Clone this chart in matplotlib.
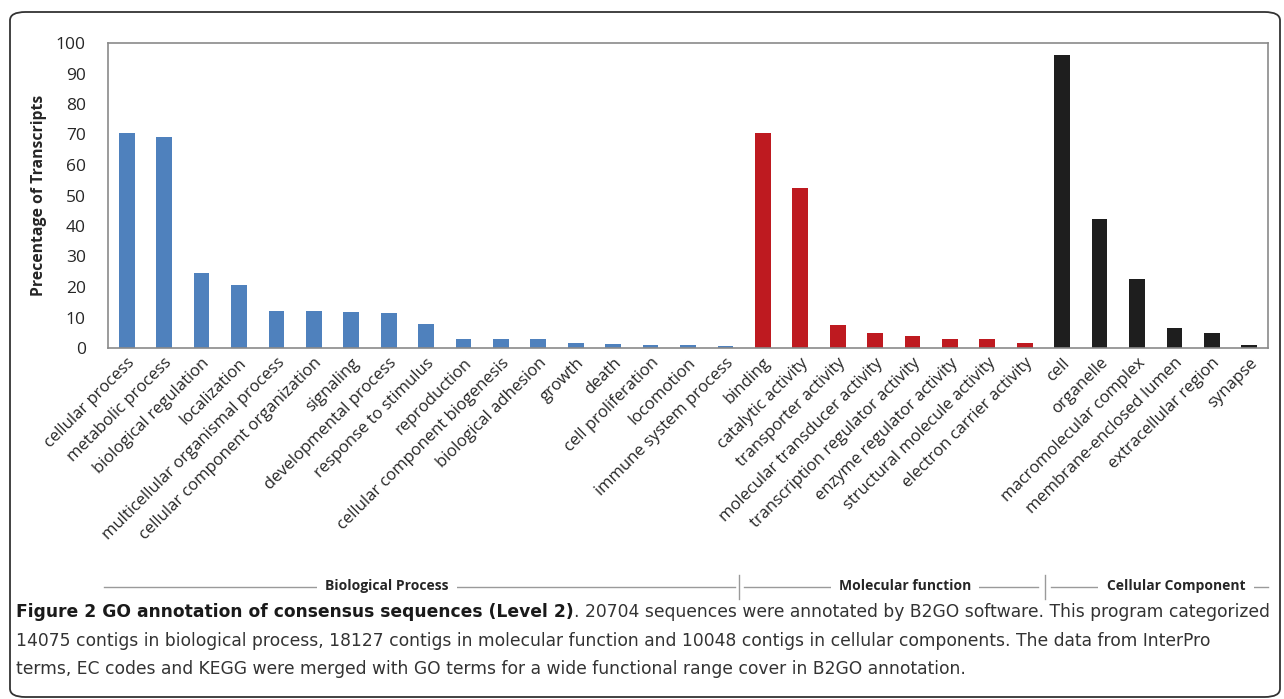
# GO annotation (Level 2) 막대 그래프 재현 스크립트

import matplotlib.pyplot as plt
from matplotlib.patches import FancyBboxPatch
from matplotlib.lines import Line2D

bp_terms = ['cellular process', 'metabolic process', 'biological regulation', 'localization',
            'multicellular organismal process', 'cellular component organization', 'signaling',
            'developmental process', 'response to stimulus', 'reproduction',
            'cellular component biogenesis', 'biological adhesion', 'growth', 'death',
            'cell proliferation', 'locomotion', 'immune system process']
bp_values = [70.4, 69.1, 24.5, 20.6, 12.2, 12.2, 11.9, 11.6, 7.9, 3.0,
             3.0, 3.0, 1.7, 1.4, 1.1, 1.1, 0.7]

mf_terms = ['binding', 'catalytic activity', 'transporter activity', 'molecular transducer activity',
            'transcription regulator activity', 'enzyme regulator activity',
            'structural molecule activity', 'electron carrier activity']
mf_values = [70.5, 52.4, 7.4, 4.8, 3.8, 3.1, 2.8, 1.5]

cc_terms = ['cell', 'organelle', 'macromolecular complex', 'membrane-enclosed lumen',
            'extracellular region', 'synapse']
cc_values = [96.0, 42.4, 22.7, 6.6, 4.8, 1.1]

group_names = ['Biological Process', 'Molecular function', 'Cellular Component']

caption_bold = 'Figure 2 GO annotation of consensus sequences (Level 2)'
caption_rest = '. 20704 sequences were annotated by B2GO software. This program categorized'
caption_lines = ['14075 contigs in biological process, 18127 contigs in molecular function and 10048 contigs in cellular components. The data from InterPro',
                 'terms, EC codes and KEGG were merged with GO terms for a wide functional range cover in B2GO annotation.']

W, H = 1284, 699
def fx(x): return x / W          # 픽셀 -> figure 좌표
def fy(y): return 1 - y / H

fig = plt.figure(figsize=(W / 100, H / 100), dpi=100)
ax = fig.add_axes([fx(108), fy(348), fx(1268) - fx(108), fy(43) - fy(348)])

terms = bp_terms + mf_terms + cc_terms
values = bp_values + mf_values + cc_values
colors = ['#4F81BD'] * len(bp_terms) + ['#BE1A20'] * len(mf_terms) + ['#1E1E1E'] * len(cc_terms)
pos = list(range(len(terms)))

ax.bar(pos, values, width=0.42, color=colors)
ax.set_xlim(-0.5, len(terms) - 0.5)
ax.set_ylim(0, 100)
ax.set_yticks(range(0, 101, 10))
ax.set_xticks(pos)
ax.set_xticklabels(terms, rotation=45, ha='right', va='top', rotation_mode='anchor',
                   fontsize=12, family='Open Sans', color='#262626')
for lab in ax.get_yticklabels():
    lab.set_fontsize(12.5)
    lab.set_family('Open Sans')
    lab.set_color('#262626')
ax.tick_params(axis='both', length=0)
ax.tick_params(axis='y', pad=16)
ax.tick_params(axis='x', pad=5)
for s in ax.spines.values():
    s.set_color('#8a8a8a')
    s.set_linewidth(1.2)
ax.set_ylabel('Precentage of Transcripts', fontsize=11.3, fontweight='bold', family='Open Sans',
              color='#262626')
ax.yaxis.set_label_coords((47 - 108) / (1268 - 108), 0.5)

# 그룹 구분선 + 그룹 이름
line_col = '#9a9a9a'
spans = [(104, 735, 387), (744, 1038, 905), (1051, 1268, 1176)]
for (x0, x1, xc), name in zip(spans, group_names):
    fig.add_artist(Line2D([fx(x0), fx(x1)], [fy(587), fy(587)], color=line_col, lw=1))
    fig.text(fx(xc), fy(586), name, ha='center', va='center', fontsize=10, fontweight='bold',
             family='Open Sans', color='#262626',
             bbox=dict(facecolor='white', edgecolor='none', pad=6))
for xs in [739, 1045]:
    fig.add_artist(Line2D([fx(xs), fx(xs)], [fy(575), fy(599)], color=line_col, lw=1))

# 캡션
cap_font = ['Liberation Sans Narrow', 'DejaVu Sans']
cap_size = 14
renderer = fig.canvas.get_renderer()
t1 = fig.text(fx(16), fy(612), caption_bold, ha='left', va='center', fontsize=cap_size,
              fontweight='bold', family=cap_font, color='#1a1a1a')
t2 = fig.text(0, fy(612), caption_rest, ha='left', va='center', fontsize=cap_size,
              family=cap_font, color='#333333')
t3 = fig.text(fx(16), fy(641), caption_lines[0], ha='left', va='center', fontsize=cap_size,
              family=cap_font, color='#333333')
t4 = fig.text(fx(16), fy(669), caption_lines[1], ha='left', va='center', fontsize=cap_size,
              family=cap_font, color='#333333')
# 첫 줄 폭이 약 1257px 가 되도록 글자 크기 조정
w1 = t1.get_window_extent(renderer).width
t2.set_x(fx(16 + w1))
w2 = t2.get_window_extent(renderer).width
scale = 1257 / (w1 + w2)
for t in [t1, t2, t3, t4]:
    t.set_fontsize(cap_size * scale)
w1 = t1.get_window_extent(renderer).width
t2.set_x(fx(16 + w1))

# 바깥 둥근 테두리
box = FancyBboxPatch((fx(10), fy(697)), fx(1280) - fx(10), fy(12) - fy(697),
                     boxstyle='round,pad=0,rounding_size=0.012', transform=fig.transFigure,
                     facecolor='none', edgecolor='#333333', lw=1.3)
fig.add_artist(box)

fig.savefig('out.png', dpi=100)
